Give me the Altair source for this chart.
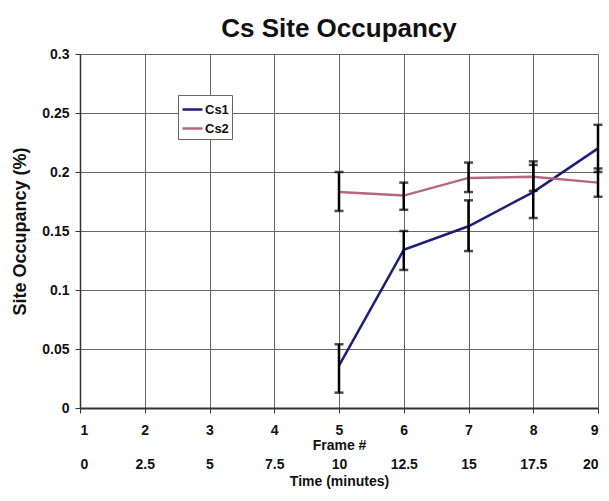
import altair as alt
import pandas as pd

# Measured site occupancy of the two Cs sites per frame, with error bounds
frames = [5, 6, 7, 8, 9]
cs1 = [0.036, 0.134, 0.154, 0.183, 0.220]
cs1_lo = [0.013, 0.117, 0.133, 0.161, 0.200]
cs1_hi = [0.054, 0.150, 0.176, 0.206, 0.240]
cs2 = [0.183, 0.180, 0.195, 0.196, 0.191]
cs2_lo = [0.167, 0.168, 0.183, 0.184, 0.179]
cs2_hi = [0.200, 0.191, 0.208, 0.209, 0.203]

frame_ticks = [1, 2, 3, 4, 5, 6, 7, 8, 9]
time_ticks = [0, 2.5, 5, 7.5, 10, 12.5, 15, 17.5, 20]
y_ticks = [0, 0.05, 0.1, 0.15, 0.2, 0.25, 0.3]

series_names = ["Cs1", "Cs2"]
series_colors = ["#1e1e78", "#b5687c"]

rows = []
for name, vals, lo, hi in [("Cs1", cs1, cs1_lo, cs1_hi), ("Cs2", cs2, cs2_lo, cs2_hi)]:
    for f, v, l, h in zip(frames, vals, lo, hi):
        rows.append({"series": name, "frame": f, "value": v, "lo": l, "hi": h})
df = pd.DataFrame(rows)
time_df = pd.DataFrame({"time": time_ticks})

FONT = "Liberation Sans Narrow, Liberation Sans, Arial"
INK = "#111111"

x_frame = alt.X(
    "frame:Q",
    scale=alt.Scale(domain=[1, 9], nice=False, zero=False),
    axis=alt.Axis(
        values=frame_ticks, format="d", title="Frame #", grid=True,
        gridColor="#666666", gridWidth=1, domainColor="#333333", domainWidth=2,
        tickColor="#333333", tickSize=5, labelFont=FONT, labelFontSize=14,
        labelFontWeight="bold", labelColor=INK, labelPadding=10,
        titleFont=FONT, titleFontSize=14, titleFontWeight="bold",
        titleColor=INK, titlePadding=1,
    ),
)
y_occ = alt.Y(
    "value:Q",
    scale=alt.Scale(domain=[0, 0.3], nice=False),
    axis=alt.Axis(
        values=y_ticks, format="~g", title="Site Occupancy (%)", grid=True,
        gridColor="#666666", gridWidth=1, domainColor="#333333", domainWidth=1.5,
        tickColor="#333333", tickSize=5, labelFont=FONT, labelFontSize=14,
        labelFontWeight="bold", labelColor=INK, labelPadding=6,
        titleFont=FONT, titleFontSize=18, titleFontWeight="bold",
        titleColor=INK, titlePadding=12,
    ),
)

color = alt.Color(
    "series:N",
    scale=alt.Scale(domain=series_names, range=series_colors),
    legend=alt.Legend(
        title=None, orient="none", legendX=98, legendY=41, symbolType="stroke",
        symbolStrokeWidth=2.5, symbolSize=400, labelFont=FONT, labelFontSize=13,
        labelFontWeight="bold", labelColor=INK, strokeColor="#666666",
        fillColor="white", padding=3, rowPadding=0, labelOffset=1,
    ),
)

lines = alt.Chart(df).mark_line(strokeWidth=2.5).encode(x=x_frame, y=y_occ, color=color)

err = alt.Chart(df).mark_rule(color="black", strokeWidth=2.5).encode(
    x="frame:Q", y="lo:Q", y2="hi:Q"
)
cap_lo = alt.Chart(df).mark_tick(color="black", thickness=2.5, size=9, orient="horizontal").encode(
    x="frame:Q", y="lo:Q"
)
cap_hi = alt.Chart(df).mark_tick(color="black", thickness=2.5, size=9, orient="horizontal").encode(
    x="frame:Q", y="hi:Q"
)

main = alt.layer(lines, err, cap_lo, cap_hi)

# Second row of bottom labels: elapsed time for each frame
time_axis = alt.Chart(time_df).mark_point(opacity=0).encode(
    x=alt.X(
        "time:Q",
        scale=alt.Scale(domain=[0, 20], nice=False, zero=False),
        axis=alt.Axis(
            orient="bottom", offset=47, values=time_ticks, format=".3~g",
            title="Time (minutes)", grid=False, domain=False, ticks=False,
            labelFont=FONT, labelFontSize=14, labelFontWeight="bold",
            labelColor=INK, labelPadding=2, labelOverlap=False,
            titleFont=FONT, titleFontSize=14, titleFontWeight="bold",
            titleColor=INK, titlePadding=3,
        ),
    ),
)

chart = (
    alt.layer(main, time_axis)
    .resolve_scale(x="independent")
    .properties(
        width=518,
        height=354,
        title=alt.TitleParams(
            "Cs Site Occupancy", font=FONT, fontSize=26, fontWeight="bold",
            color=INK, anchor="middle", offset=5,
        ),
        autosize=alt.AutoSizeParams(type="none"),
        padding={"left": 80, "top": 54, "right": 11, "bottom": 93},
    )
    .configure_view(stroke=None)
)

chart.save("out.html", embed_options={"renderer": "svg", "actions": False})
